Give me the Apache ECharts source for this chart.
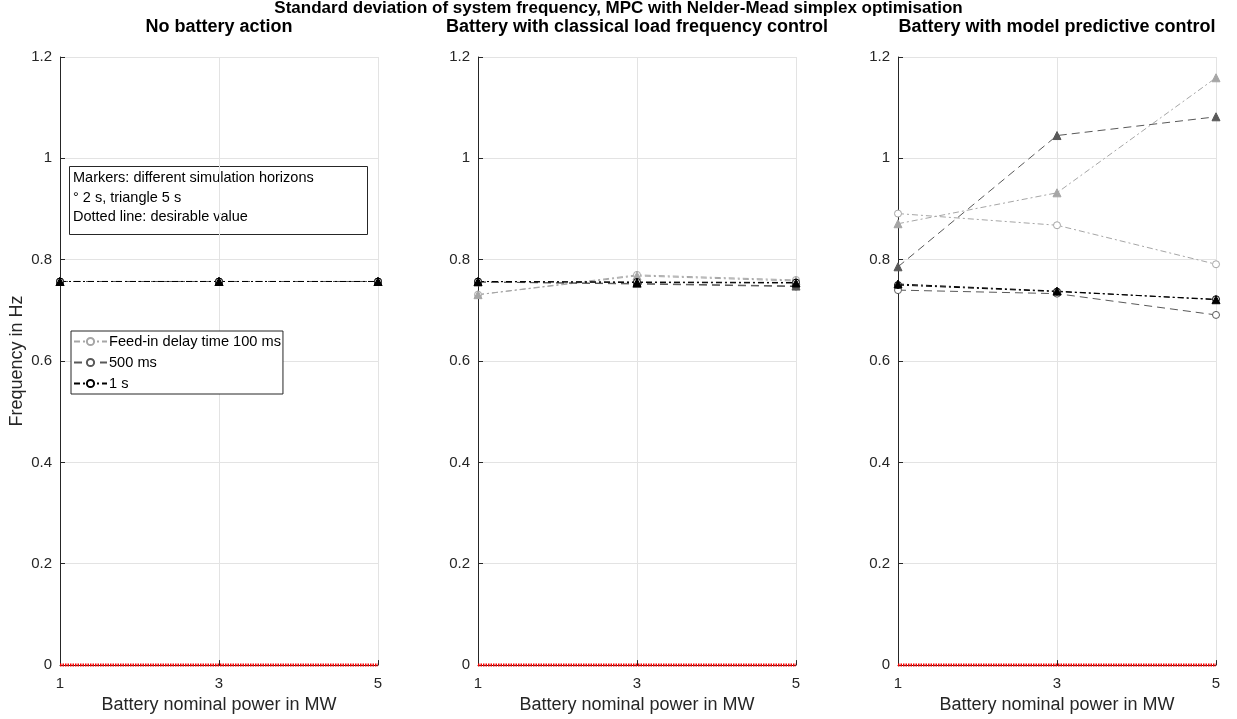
<!DOCTYPE html>
<html>
<head>
<meta charset="utf-8">
<script src="https://cdn.jsdelivr.net/npm/echarts@6/dist/echarts.min.js"></script>
<style>
html,body{margin:0;padding:0;background:#fff;}
#chart{width:1237px;height:719px;}
</style>
</head>
<body>
<div id="chart"></div>
<script>
// ---- data ----
const powerMW = [1, 3, 5];                 // battery nominal power (MW)
const yTicks = [0, 0.2, 0.4, 0.6, 0.8, 1, 1.2];
const panelTitles = ['No battery action', 'Battery with classical load frequency control', 'Battery with model predictive control'];
const delayNames = ['Feed-in delay time 100 ms', '500 ms', '1 s'];

// No battery action
const noBat_100_2s = [0.757, 0.757, 0.757];
const noBat_100_5s = [0.757, 0.757, 0.757];
const noBat_500_2s = [0.757, 0.757, 0.757];
const noBat_500_5s = [0.757, 0.757, 0.757];
const noBat_1s_2s  = [0.757, 0.757, 0.757];
const noBat_1s_5s  = [0.757, 0.757, 0.757];
// Classical load frequency control
const lfc_100_2s = [0.731, 0.770, 0.760];
const lfc_100_5s = [0.731, 0.768, 0.758];
const lfc_500_2s = [0.756, 0.752, 0.747];
const lfc_500_5s = [0.756, 0.753, 0.748];
const lfc_1s_2s  = [0.757, 0.756, 0.755];
const lfc_1s_5s  = [0.757, 0.755, 0.754];
// Model predictive control
const mpc_100_2s = [0.891, 0.868, 0.791];
const mpc_100_5s = [0.871, 0.932, 1.159];
const mpc_500_2s = [0.740, 0.733, 0.691];
const mpc_500_5s = [0.786, 1.045, 1.082];
const mpc_1s_2s  = [0.750, 0.737, 0.722];
const mpc_1s_5s  = [0.752, 0.738, 0.721];
const desirable = [0, 0, 0];

// ---- styles ----
const TXT = '#262626';
const FONT = '"Liberation Sans", Arial, Helvetica, sans-serif';
const delayColors = ['#a6a6a6', '#595959', '#000000'];
const delayDash = [[6, 3, 2, 3], [8, 5], [6, 3, 2, 3]];

const grids = [
  {left: 60, top: 57, width: 318, height: 610},
  {left: 478, top: 57, width: 318, height: 610},
  {left: 898, top: 57, width: 318, height: 610}
];
const panels = [
  [[noBat_100_2s, noBat_100_5s], [noBat_500_2s, noBat_500_5s], [noBat_1s_2s, noBat_1s_5s]],
  [[lfc_100_2s, lfc_100_5s], [lfc_500_2s, lfc_500_5s], [lfc_1s_2s, lfc_1s_5s]],
  [[mpc_100_2s, mpc_100_5s], [mpc_500_2s, mpc_500_5s], [mpc_1s_2s, mpc_1s_5s]]
];

const xAxes = grids.map((g, i) => ({
  type: 'value', gridIndex: i, min: powerMW[0], max: powerMW[powerMW.length - 1], interval: 2,
  name: 'Battery nominal power in MW', nameLocation: 'middle', nameGap: 30,
  nameTextStyle: {color: TXT, fontSize: 18, fontFamily: FONT},
  axisLine: {show: true, lineStyle: {color: TXT, width: 1}},
  axisTick: {show: true, inside: true, length: 5, lineStyle: {color: TXT}},
  axisLabel: {color: TXT, fontSize: 15, fontFamily: FONT, margin: 11},
  splitLine: {show: true, lineStyle: {color: '#e3e3e3', width: 1}}
}));
const yAxes = grids.map((g, i) => ({
  type: 'value', gridIndex: i, min: yTicks[0], max: yTicks[yTicks.length - 1], interval: 0.2,
  name: i === 0 ? 'Frequency in Hz' : '', nameLocation: 'middle', nameGap: 34,
  nameTextStyle: {color: TXT, fontSize: 18, fontFamily: FONT},
  axisLine: {show: true, lineStyle: {color: TXT, width: 1}},
  axisTick: {show: true, inside: true, length: 5, lineStyle: {color: TXT}},
  axisLabel: {color: TXT, fontSize: 15, fontFamily: FONT, margin: 8,
    formatter: v => String(Math.round(v * 10) / 10)},
  splitLine: {show: true, lineStyle: {color: '#e3e3e3', width: 1}}
}));

const series = [];
panels.forEach((panel, p) => {
  panel.forEach((pair, d) => {
    // 2 s horizon: open circles
    series.push({
      type: 'line', name: delayNames[d], xAxisIndex: p, yAxisIndex: p,
      data: powerMW.map((x, k) => [x, pair[0][k]]),
      symbol: 'circle', symbolSize: 7, z: 2 + d, clip: false,
      itemStyle: {color: '#ffffff', borderColor: delayColors[d], borderWidth: 1},
      lineStyle: {color: delayColors[d], width: 1, type: delayDash[d]}
    });
    // 5 s horizon: filled triangles
    series.push({
      type: 'line', name: delayNames[d] + ' (5 s)', xAxisIndex: p, yAxisIndex: p,
      data: powerMW.map((x, k) => [x, pair[1][k]]),
      symbol: 'triangle', symbolSize: 8, z: 2 + d, clip: false,
      itemStyle: {color: delayColors[d], borderColor: delayColors[d]},
      lineStyle: {color: delayColors[d], width: 1, type: delayDash[d]}
    });
  });
  series.push({
    type: 'line', name: 'desirable', xAxisIndex: p, yAxisIndex: p,
    data: powerMW.map((x, k) => [x, desirable[k]]),
    showSymbol: false, symbol: 'none', silent: true, z: 10, clip: false,
    lineStyle: {color: '#ff0000', width: 3, type: [1.5, 1]}
  });
});

const titles = [{
  text: 'Standard deviation of system frequency, MPC with Nelder-Mead simplex optimisation',
  left: 'center', top: 0, padding: 0,
  textStyle: {color: '#000', fontSize: 17, fontWeight: 'bold', fontFamily: FONT}
}];
grids.forEach((g, i) => titles.push({
  text: panelTitles[i], left: g.left + g.width / 2, top: 18, padding: 0, textAlign: 'center',
  textStyle: {color: '#000', fontSize: 18, fontWeight: 'bold', fontFamily: FONT}
}));

const chart = echarts.init(document.getElementById('chart'), null, {renderer: 'canvas'});
chart.setOption({
  animation: false,
  backgroundColor: '#ffffff',
  title: titles,
  grid: grids,
  xAxis: xAxes,
  yAxis: yAxes,
  legend: {
    data: delayNames, orient: 'vertical', left: 71, top: 331,
    padding: [3, 2, 3, 2], itemGap: 6, itemWidth: 33, itemHeight: 9,
    backgroundColor: '#ffffff', borderColor: TXT, borderWidth: 1, borderRadius: 0,
    selectedMode: false,
    textStyle: {color: '#000', fontSize: 14.6, fontFamily: FONT, padding: [0, 0, 0, -3]}
  },
  graphic: [{
    type: 'group', left: 69, top: 166,
    children: [
      {type: 'rect', shape: {x: 0, y: 0, width: 298, height: 68},
        style: {fill: '#ffffff', stroke: TXT, lineWidth: 1}},
      {type: 'text', x: 3.5, y: 2,
        style: {text: 'Markers: different simulation horizons\n° 2 s, triangle 5 s\nDotted line: desirable value',
          fill: '#000', font: '14.5px ' + FONT, lineHeight: 19.5}}
    ]
  }],
  series: series
});
</script>
</body>
</html>
